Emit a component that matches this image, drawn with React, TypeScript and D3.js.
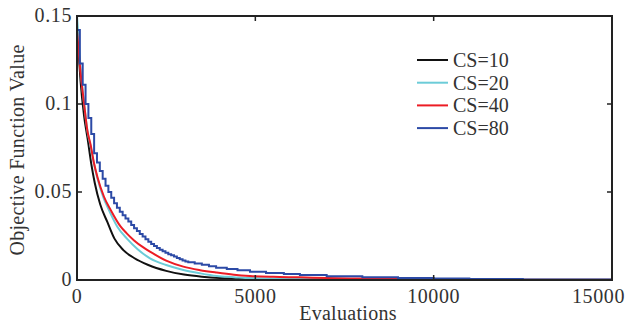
import React, { useEffect, useRef } from "react";
import * as d3 from "d3";

const xTicks = [0, 5000, 10000, 15000];
const yTicks = [0, 0.05, 0.1, 0.15];
const yTickLabels = ["0", "0.05", "0.1", "0.15"];
const seriesNames = ["CS=10", "CS=20", "CS=40", "CS=80"];
const seriesColors = ["#111111", "#6cccd8", "#ec1c24", "#2c4aa6"];

const cs10Evals = [0, 50, 100, 200, 300, 400, 500, 650, 850, 1050, 1300, 1600, 2000, 2500, 3000, 3500, 4000, 5000, 6000, 8000, 10000, 15000];
const cs10Values = [0.142, 0.128, 0.113, 0.093, 0.08, 0.066, 0.055, 0.043, 0.033, 0.0235, 0.017, 0.0125, 0.0085, 0.0052, 0.0031, 0.0019, 0.0012, 0.0007, 0.0004, 0.0002, 0.0001, 0.00005];

const cs20Evals = [0, 50, 100, 200, 290, 380, 477, 570, 757, 850, 1130, 1400, 1700, 2047, 2500, 2981, 3450, 3917, 4400, 4851, 6000, 8000, 10000, 15000];
const cs20Values = [0.15, 0.135, 0.12, 0.1, 0.085, 0.076, 0.066, 0.058, 0.046, 0.0417, 0.0303, 0.0235, 0.0175, 0.0123, 0.0085, 0.0057, 0.0038, 0.0023, 0.0016, 0.001, 0.0006, 0.0003, 0.0002, 0.0001];

const cs40Evals = [0, 100, 200, 290, 380, 477, 570, 757, 944, 1225, 1394, 1600, 1860, 2047, 2500, 2981, 3450, 3917, 4400, 4851, 5500, 6253, 7000, 8000, 9000, 10000, 12000, 15000];
const cs40Values = [0.142, 0.118, 0.1, 0.085, 0.077, 0.0663, 0.0587, 0.0473, 0.0398, 0.0303, 0.0265, 0.0225, 0.0185, 0.0161, 0.011, 0.0076, 0.0056, 0.0042, 0.003, 0.0023, 0.0018, 0.0015, 0.0011, 0.0008, 0.0006, 0.0004, 0.0002, 0.0001];

const cs80Evals = [0, 80, 160, 240, 320, 400, 480, 560, 640, 720, 800, 880, 960, 1040, 1120, 1200, 1280, 1360, 1440, 1520, 1600, 1680, 1760, 1840, 1920, 2000, 2080, 2160, 2240, 2320, 2400, 2480, 2560, 2640, 2720, 2800, 2880, 2960, 3040, 3120, 3300, 3500, 3700, 3900, 4200, 4500, 4850, 5300, 5800, 6250, 7000, 8000, 9000, 10000, 11000, 12500, 15000];
const cs80Values = [0.142, 0.123, 0.111, 0.1, 0.092, 0.083, 0.072, 0.0668, 0.062, 0.0575, 0.0535, 0.05, 0.0468, 0.0436, 0.041, 0.0388, 0.0368, 0.035, 0.0333, 0.0313, 0.0294, 0.0278, 0.0262, 0.0247, 0.0232, 0.0218, 0.0205, 0.0193, 0.0182, 0.0172, 0.0163, 0.0155, 0.0147, 0.014, 0.0133, 0.0125, 0.0118, 0.0111, 0.0105, 0.0101, 0.0094, 0.0087, 0.0078, 0.007, 0.0062, 0.0055, 0.0047, 0.004, 0.0034, 0.0028, 0.0022, 0.0016, 0.0011, 0.0008, 0.0005, 0.0003, 0.0002];

const W = 626, H = 327;
const M = { left: 77, right: 612, top: 16, bottom: 280 };
const FONT = "'Liberation Serif', 'DejaVu Serif', serif";
const FS = 20;

export default function App() {
  const ref = useRef<SVGSVGElement>(null);
  useEffect(() => {
    const svg = d3.select(ref.current);
    svg.selectAll("*").remove();
    const x = d3.scaleLinear().domain([0, 15000]).range([M.left, M.right]);
    const y = d3.scaleLinear().domain([0, 0.15]).range([M.bottom, M.top]);

    const series = [
      { e: cs10Evals, v: cs10Values, step: false },
      { e: cs20Evals, v: cs20Values, step: false },
      { e: cs40Evals, v: cs40Values, step: false },
      { e: cs80Evals, v: cs80Values, step: true },
    ];

    const clip = svg.append("defs").append("clipPath").attr("id", "clip");
    clip.append("rect").attr("x", M.left).attr("y", M.top).attr("width", M.right - M.left).attr("height", M.bottom - M.top);

    const g = svg.append("g").attr("clip-path", "url(#clip)");
    series.forEach((s, i) => {
      const pts = s.e.map((e, j) => [e, s.v[j]] as [number, number]);
      const line = d3
        .line<[number, number]>()
        .x((d) => x(d[0]))
        .y((d) => y(d[1]))
        .curve(s.step ? d3.curveStepAfter : d3.curveMonotoneX);
      g.append("path")
        .attr("d", line(pts))
        .attr("fill", "none")
        .attr("stroke", seriesColors[i])
        .attr("stroke-width", 2);
    });

    svg.append("rect")
      .attr("x", M.left).attr("y", M.top)
      .attr("width", M.right - M.left).attr("height", M.bottom - M.top)
      .attr("fill", "none").attr("stroke", "#222").attr("stroke-width", 2);

    const tl = 5;
    xTicks.forEach((t, i) => {
      svg.append("line").attr("x1", x(t)).attr("x2", x(t)).attr("y1", M.bottom).attr("y2", M.bottom - tl).attr("stroke", "#222").attr("stroke-width", 1.5);
      svg.append("line").attr("x1", x(t)).attr("x2", x(t)).attr("y1", M.top).attr("y2", M.top + tl).attr("stroke", "#222").attr("stroke-width", 1.5);
      const last = i === xTicks.length - 1;
      svg.append("text").attr("x", last ? W - 1 : x(t)).attr("y", M.bottom + 23).attr("text-anchor", last ? "end" : "middle")
        .attr("font-family", FONT).attr("font-size", FS).attr("letter-spacing", 0.6).attr("fill", "#333").text(String(t));
    });
    yTicks.forEach((t, i) => {
      svg.append("line").attr("x1", M.left).attr("x2", M.left + tl).attr("y1", y(t)).attr("y2", y(t)).attr("stroke", "#222").attr("stroke-width", 1.5);
      svg.append("line").attr("x1", M.right).attr("x2", M.right - tl).attr("y1", y(t)).attr("y2", y(t)).attr("stroke", "#222").attr("stroke-width", 1.5);
      svg.append("text").attr("x", M.left - 5).attr("y", y(t) + 6).attr("text-anchor", "end")
        .attr("font-family", FONT).attr("font-size", FS).attr("letter-spacing", 0.6).attr("fill", "#333").text(yTickLabels[i]);
    });

    svg.append("text").attr("x", 348).attr("y", 320).attr("text-anchor", "middle")
      .attr("font-family", FONT).attr("font-size", FS).attr("letter-spacing", 0.3).attr("fill", "#333").text("Evaluations");
    svg.append("text").attr("transform", `translate(24,${(M.top + M.bottom) / 2 + 2}) rotate(-90)`)
      .attr("text-anchor", "middle")
      .attr("font-family", FONT).attr("font-size", FS).attr("letter-spacing", 0.3).attr("fill", "#333").text("Objective Function Value");

    const lg = svg.append("g");
    seriesNames.forEach((n, i) => {
      const yy = 60 + i * 22.7;
      lg.append("line").attr("x1", 417).attr("x2", 448).attr("y1", yy).attr("y2", yy)
        .attr("stroke", seriesColors[i]).attr("stroke-width", 2);
      lg.append("text").attr("x", 453).attr("y", yy + 7)
        .attr("font-family", FONT).attr("font-size", FS).attr("fill", "#333").text(n);
    });
  }, []);

  return (
    <svg
      ref={ref}
      width={W}
      height={H}
      style={{ position: "absolute", left: 0, top: 0, background: "#fff" }}
    />
  );
}
